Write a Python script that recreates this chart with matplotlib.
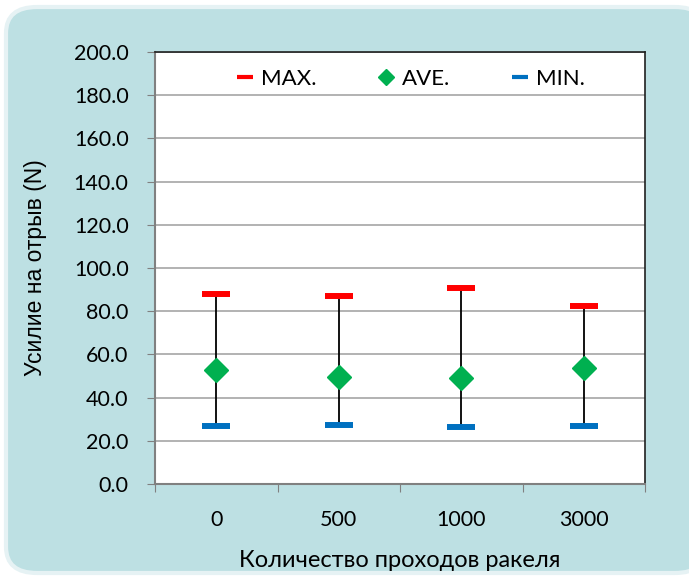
"""Peel force vs. number of squeegee passes (max / ave / min)."""

import matplotlib
matplotlib.use("Agg")
import matplotlib.pyplot as plt
from matplotlib.patches import FancyBboxPatch
from matplotlib.lines import Line2D

# Data
categories = ["0", "500", "1000", "3000"]
max_vals = [88.0, 87.0, 90.7, 82.4]
ave_vals = [52.9, 49.4, 49.2, 53.7]
min_vals = [26.9, 27.3, 26.4, 26.9]

MAX_COLOR = "#FF0000"
AVE_COLOR = "#00B050"
MIN_COLOR = "#0070C0"
BG_COLOR = "#BDE0E3"
GRID_COLOR = "#A6A6A6"

plt.rcParams["font.family"] = ["Lato", "DejaVu Sans"]

fig = plt.figure(figsize=(6.89, 5.81), dpi=100)
fig.patch.set_facecolor("white")

# Rounded light-blue panel behind the chart
panel = FancyBboxPatch(
    (6 / 689, 8 / 581), 700 / 689, 566 / 581,
    boxstyle="round,pad=0,rounding_size=0.045",
    transform=fig.transFigure, facecolor=BG_COLOR,
    edgecolor="#E6F2F4", linewidth=3, zorder=-10,
)
fig.patches.append(panel)

ax = fig.add_axes([155 / 689, 1 - 484 / 581, 490 / 689, 432 / 581])
ax.set_zorder(1)
ax.set_facecolor("white")

x = list(range(len(categories)))

ax.vlines(x, min_vals, max_vals, color="black", linewidth=1.3, zorder=2)
ax.plot(x, max_vals, linestyle="none", marker="_", markersize=19.5,
        markeredgewidth=4.3, color=MAX_COLOR, zorder=3)
ax.plot(x, min_vals, linestyle="none", marker="_", markersize=19.5,
        markeredgewidth=4.3, color=MIN_COLOR, zorder=3)
ax.plot(x, ave_vals, linestyle="none", marker="D", markersize=12,
        color=AVE_COLOR, markeredgecolor=AVE_COLOR, zorder=4)

ax.set_xlim(-0.5, len(categories) - 0.5)
ax.set_ylim(0, 200)
ax.set_yticks(range(0, 201, 20))
ax.set_yticklabels([f"{v:.1f}" for v in range(0, 201, 20)], fontsize=15.5)
ax.yaxis.grid(True, color=GRID_COLOR, linewidth=1.2)
ax.set_axisbelow(True)

# Excel-style category axis: tick marks between categories, labels centred
ax.set_xticks([i - 0.5 for i in range(len(categories) + 1)])
ax.set_xticklabels([])
ax.set_xticks(x, minor=True)
ax.set_xticklabels(categories, minor=True, fontsize=15.5)
ax.tick_params(axis="x", which="major", length=6, color="#808080", direction="out")
ax.tick_params(axis="x", which="minor", length=0, pad=19)
ax.tick_params(axis="y", length=6, color="#808080", direction="out", pad=13)

for side in ["left", "bottom"]:
    ax.spines[side].set_color("#808080")
    ax.spines[side].set_linewidth(1.5)
for side in ["top", "right"]:
    ax.spines[side].set_color("#202020")
    ax.spines[side].set_linewidth(1.2)

ax.set_ylabel("Усилие на отрыв (N)", fontsize=16.5, family="Liberation Sans")
ax.yaxis.set_label_coords(-0.22, 0.5)
ax.set_xlabel("Количество проходов ракеля", fontsize=17)
ax.xaxis.set_label_coords(0.5, -0.153)

handles = [
    Line2D([], [], linestyle="none", marker="_", markersize=12,
           markeredgewidth=3, color=MAX_COLOR),
    Line2D([], [], linestyle="none", marker="D", markersize=8.5,
           color=AVE_COLOR),
    Line2D([], [], linestyle="none", marker="_", markersize=12,
           markeredgewidth=3, color=MIN_COLOR),
]
ax.legend(handles, ["MAX.", "AVE.", "MIN."], loc="center",
          bbox_to_anchor=(0.521, 0.9375), ncol=3, frameon=False,
          fontsize=16, handlelength=0.8, handletextpad=0.3,
          columnspacing=2.75)

fig.savefig("out.png", dpi=100, facecolor=fig.get_facecolor())
